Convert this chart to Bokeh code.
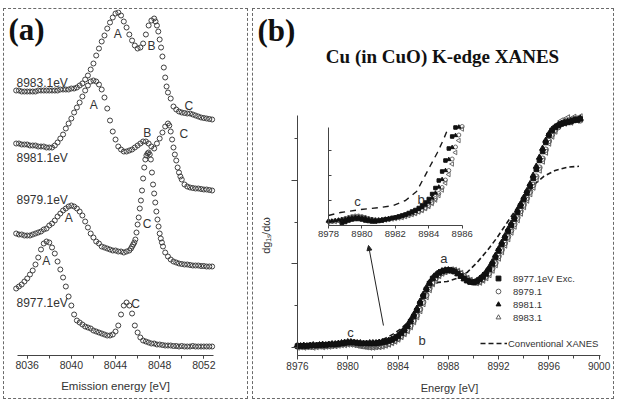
import math

from bokeh.embed import file_html
from bokeh.layouts import row
from bokeh.models import (Arrow, FixedTicker, Label, Legend, LegendItem, LinearAxis,
                          NormalHead, Range1d, SingleIntervalTicker)
from bokeh.plotting import figure
from bokeh.resources import INLINE


def energy_grid(*segments):
    """Expand (start, step, count) sampling segments into a list of energies."""
    pts = []
    for start, step, count in segments:
        pts.extend(round(start + i * step, 3) for i in range(count))
    return pts


# ---------------- (a) emission spectra, stacked by excitation energy ----------------
emission_names = ["8983.1eV", "8981.1eV", "8979.1eV", "8977.1eV"]
emission_name_y = [27.3, 19.8, 15.6, 5.3]

e_8977 = energy_grid((8035.0, 0.25, 72))
i_8977 = [6.7, 6.9, 7.1, 7.4, 7.7, 8.1, 8.5, 9.1, 9.8, 10.6,
          11.2, 11.4, 11.3, 10.8, 10.2, 9.4, 8.6, 7.8, 6.9, 5.9,
          5.0, 4.1, 3.5, 3.3, 3.1, 2.9, 2.8, 2.7, 2.5, 2.4,
          2.3, 2.2, 2.1, 2.0, 2.0, 2.1, 2.4, 3.0, 4.1, 5.0,
          5.3, 5.0, 4.2, 3.0, 2.3, 1.8, 1.5, 1.4, 1.3, 1.2,
          1.2, 1.1, 1.1, 1.05, 1.0, 1.0, 1.0, 0.95, 0.95, 0.9,
          0.95, 0.9, 0.9, 0.9, 0.95, 0.9, 0.9, 0.9, 0.9, 0.9,
          0.9, 0.9]

e_8979 = energy_grid((8035.0, 0.25, 42), (8045.4, 0.1, 30), (8048.5, 0.25, 18))
i_8979 = [12.2, 12.1, 12.1, 12.0, 12.0, 12.0, 12.1, 12.2, 12.3, 12.4,
          12.6, 12.7, 13.0, 13.2, 13.5, 13.9, 14.2, 14.5, 14.7, 14.9,
          15.0, 14.9, 14.7, 14.4, 14.0, 13.4, 12.8, 12.2, 11.8, 11.4,
          11.2, 10.9, 10.8, 10.7, 10.6, 10.5, 10.5, 10.4, 10.4, 10.3,
          10.4, 10.5,
          10.7, 10.9, 11.1, 11.3, 11.6, 12.3, 13.1, 13.8, 14.7, 15.5,
          16.5, 17.7, 18.8, 19.6, 20.0, 20.2, 20.3, 20.1, 19.6, 18.3,
          17.1, 16.2, 15.3, 14.4, 13.6, 12.9, 12.2, 11.7, 11.3, 10.9,
          10.3, 9.9, 9.6, 9.4, 9.3, 9.2, 9.15, 9.1, 9.1, 9.05,
          9.0, 9.0, 9.0, 8.95, 8.95, 8.9, 8.9, 8.9]

e_8981 = energy_grid((8035.0, 0.25, 56), (8048.875, 0.125, 10), (8050.25, 0.25, 11))
i_8981 = [21.2, 21.2, 21.1, 21.1, 21.1, 21.0, 21.0, 21.0, 20.9, 20.9,
          20.9, 20.8, 20.8, 20.8, 21.0, 21.3, 21.7, 22.1, 22.7, 23.2,
          23.7, 24.3, 24.8, 25.3, 25.9, 26.5, 27.0, 27.4, 27.5, 27.4,
          27.1, 26.6, 25.8, 24.7, 23.5, 22.4, 21.6, 20.9, 20.6, 20.4,
          20.4, 20.5, 20.6, 20.8, 21.0, 21.2, 21.4, 21.4, 21.2, 20.9,
          20.7, 21.2, 21.7, 22.3, 22.9, 23.2,
          23.0, 22.4, 21.6, 20.8, 20.1, 19.5, 18.8, 18.3, 17.9, 17.6,
          17.1, 16.9, 16.8, 16.75, 16.7, 16.7, 16.65, 16.6, 16.6, 16.55, 16.5]

e_8983 = energy_grid((8035.0, 0.25, 51), (8047.625, 0.125, 10), (8049.0, 0.25, 16))
i_8983 = [26.5, 26.5, 26.4, 26.4, 26.4, 26.4, 26.4, 26.4, 26.5, 26.5,
          26.5, 26.5, 26.5, 26.5, 26.5, 26.5, 26.6, 26.6, 26.6, 26.6,
          26.7, 26.7, 26.8, 27.0, 27.2, 27.6, 28.0, 28.6, 29.2, 30.0,
          30.7, 31.4, 32.0, 32.7, 33.3, 33.8, 34.2, 34.3, 34.0, 33.4,
          32.8, 32.1, 31.5, 31.0, 30.7, 30.8, 31.2, 32.1, 33.0, 33.5,
          33.7,
          33.4, 33.0, 32.4, 31.6, 30.8, 29.9, 28.8, 27.8, 26.9, 26.3,
          25.7, 24.9, 24.6, 24.4, 24.3, 24.25, 24.2, 24.2, 24.1, 24.0,
          23.9, 23.8, 23.75, 23.7, 23.65, 23.6]

# peak letters: (text, energy, stacked intensity)
emission_peaks = [("A", 8044.21, 32.2), ("B", 8047.26, 31.0), ("C", 8050.64, 25.0),
                  ("A", 8042.03, 25.1), ("B", 8046.87, 22.3), ("C", 8050.18, 22.2),
                  ("A", 8039.77, 13.8), ("C", 8046.87, 13.2),
                  ("A", 8037.72, 9.5), ("C", 8045.81, 5.2)]
emission_axis_span = (8035.09, 8052.87)

# ---------------- (b) HERFD XANES ----------------
xanes_names = ["8977.1eV Exc.", "8979.1", "8981.1", "8983.1"]
xanes_axis_span = (8976.0, 9000.11)
xanes_y_span = (-0.0958, 2.778)
e_xanes = energy_grid((8976.0, 0.25, 91))
x_8977 = [0.018, 0.018, 0.018, 0.018, 0.024, 0.024, 0.024, 0.030, 0.030, 0.030,
          0.036, 0.036, 0.036, 0.042, 0.048, 0.054, 0.060, 0.060, 0.060, 0.054,
          0.048, 0.048, 0.048, 0.048, 0.048, 0.048, 0.054, 0.060, 0.066, 0.078,
          0.090, 0.108, 0.132, 0.168, 0.204, 0.251, 0.311, 0.371, 0.443, 0.527,
          0.611, 0.695, 0.766, 0.826, 0.862, 0.892, 0.910, 0.922, 0.928, 0.922,
          0.910, 0.886, 0.856, 0.826, 0.802, 0.784, 0.778, 0.790, 0.814, 0.844,
          0.880, 0.934, 1.000, 1.078, 1.156, 1.234, 1.311, 1.389, 1.461, 1.539,
          1.617, 1.695, 1.772, 1.850, 1.928, 2.024, 2.132, 2.240, 2.347, 2.455,
          2.539, 2.599, 2.635, 2.659, 2.677, 2.689, 2.695, 2.707, 2.719, 2.731,
          2.737]
x_8979 = [0.012, 0.012, 0.012, 0.012, 0.012, 0.012, 0.018, 0.018, 0.018, 0.018,
          0.024, 0.024, 0.030, 0.036, 0.042, 0.048, 0.054, 0.054, 0.048, 0.036,
          0.024, 0.018, 0.012, 0.012, 0.012, 0.012, 0.018, 0.024, 0.036, 0.048,
          0.066, 0.084, 0.108, 0.139, 0.175, 0.213, 0.263, 0.323, 0.385, 0.460,
          0.544, 0.628, 0.709, 0.778, 0.833, 0.868, 0.896, 0.913, 0.923, 0.927,
          0.920, 0.905, 0.880, 0.850, 0.821, 0.798, 0.781, 0.779, 0.792, 0.820,
          0.850, 0.891, 0.947, 1.013, 1.094, 1.172, 1.250, 1.327, 1.403, 1.477,
          1.555, 1.633, 1.711, 1.788, 1.866, 1.947, 2.046, 2.154, 2.261, 2.369,
          2.472, 2.551, 2.607, 2.640, 2.680, 2.700, 2.720, 2.700, 2.730, 2.740,
          2.720]
x_8981 = [0.024, 0.018, 0.024, 0.018, 0.024, 0.030, 0.024, 0.030, 0.036, 0.030,
          0.036, 0.042, 0.042, 0.048, 0.054, 0.060, 0.066, 0.066, 0.060, 0.054,
          0.054, 0.048, 0.048, 0.054, 0.054, 0.054, 0.060, 0.066, 0.072, 0.084,
          0.096, 0.120, 0.144, 0.180, 0.222, 0.269, 0.329, 0.395, 0.467, 0.551,
          0.635, 0.713, 0.778, 0.832, 0.868, 0.898, 0.916, 0.926, 0.928, 0.920,
          0.904, 0.880, 0.850, 0.820, 0.796, 0.781, 0.778, 0.796, 0.826, 0.862,
          0.904, 0.958, 1.024, 1.102, 1.180, 1.258, 1.335, 1.413, 1.485, 1.563,
          1.641, 1.719, 1.796, 1.874, 1.958, 2.060, 2.168, 2.276, 2.383, 2.479,
          2.557, 2.611, 2.641, 2.665, 2.683, 2.695, 2.707, 2.713, 2.725, 2.719,
          2.743]
x_8983 = [0.006, 0.012, 0.006, 0.012, 0.012, 0.006, 0.012, 0.018, 0.012, 0.018,
          0.018, 0.024, 0.024, 0.030, 0.036, 0.036, 0.042, 0.042, 0.036, 0.030,
          0.024, 0.018, 0.012, 0.006, 0.006, 0.012, 0.012, 0.018, 0.030, 0.042,
          0.060, 0.078, 0.102, 0.132, 0.168, 0.204, 0.251, 0.311, 0.371, 0.443,
          0.527, 0.611, 0.695, 0.766, 0.826, 0.862, 0.892, 0.910, 0.922, 0.928,
          0.922, 0.910, 0.886, 0.856, 0.826, 0.802, 0.784, 0.778, 0.784, 0.808,
          0.838, 0.874, 0.928, 0.994, 1.072, 1.150, 1.228, 1.305, 1.383, 1.455,
          1.533, 1.611, 1.689, 1.766, 1.844, 1.922, 2.018, 2.126, 2.234, 2.341,
          2.449, 2.533, 2.593, 2.665, 2.713, 2.689, 2.749, 2.701, 2.755, 2.725,
          2.761]

e_conv = [8977.7, 8979.4, 8981.0, 8982.2, 8983.0, 8983.6, 8984.2, 8984.7, 8985.2,
          8985.6, 8986.2, 8986.7, 8987.2, 8987.9, 8988.7, 8989.5, 8990.3, 8991.1,
          8991.9, 8992.7, 8993.5, 8994.3, 8994.9, 8995.6, 8996.5, 8997.5, 8998.4]
x_conv = [0.01, 0.02, 0.04, 0.07, 0.11, 0.16, 0.22, 0.29, 0.38, 0.50, 0.65, 0.74,
          0.78, 0.79, 0.83, 0.90, 1.02, 1.16, 1.32, 1.50, 1.68, 1.84, 1.96, 2.05,
          2.12, 2.16, 2.17]

# pre-edge zoom (inset)
inset_ticks = [8978, 8980, 8982, 8984, 8986]
inset_y_span = (0, 3.92)
n_e_8977 = energy_grid((8978.8, 0.2, 35))
n_8977 = [0.10, 0.14, 0.20, 0.24, 0.26, 0.26, 0.24, 0.20, 0.18, 0.16,
          0.16, 0.18, 0.20, 0.24, 0.26, 0.30, 0.32, 0.36, 0.40, 0.44,
          0.50, 0.56, 0.62, 0.70, 0.80, 0.92, 1.06, 1.26, 1.50, 1.80,
          2.16, 2.60, 3.08, 3.56, 3.92]
n_e_8979 = energy_grid((8978.0, 0.2, 41))
n_8979 = [0.16, 0.16, 0.18, 0.20, 0.24, 0.28, 0.32, 0.36, 0.38, 0.38,
          0.36, 0.32, 0.28, 0.24, 0.22, 0.22, 0.22, 0.24, 0.26, 0.28,
          0.30, 0.32, 0.34, 0.38, 0.42, 0.46, 0.50, 0.56, 0.62, 0.70,
          0.80, 0.92, 1.08, 1.28, 1.52, 1.82, 2.20, 2.66, 3.14, 3.62,
          3.96]
n_e_8981 = energy_grid((8978.0, 0.2, 40))
n_8981 = [0.18, 0.18, 0.20, 0.22, 0.24, 0.26, 0.30, 0.32, 0.34, 0.34,
          0.32, 0.30, 0.26, 0.24, 0.22, 0.22, 0.24, 0.26, 0.28, 0.30,
          0.32, 0.34, 0.38, 0.42, 0.46, 0.50, 0.56, 0.64, 0.72, 0.82,
          0.94, 1.10, 1.30, 1.54, 1.84, 2.20, 2.64, 3.12, 3.60, 3.94]
n_e_8983 = energy_grid((8978.0, 0.2, 41))
n_8983 = [0.14, 0.16, 0.16, 0.18, 0.20, 0.24, 0.28, 0.30, 0.32, 0.32,
          0.30, 0.28, 0.24, 0.22, 0.20, 0.20, 0.20, 0.22, 0.24, 0.26,
          0.28, 0.30, 0.32, 0.36, 0.40, 0.44, 0.48, 0.54, 0.60, 0.68,
          0.76, 0.88, 1.02, 1.20, 1.42, 1.70, 2.04, 2.46, 2.92, 3.40,
          3.86]
n_e_conv = [8978.0, 8978.72, 8979.92, 8981.11, 8981.89, 8982.61, 8983.27, 8983.69,
            8984.10, 8984.52, 8984.88, 8985.18]
n_conv = [0.40, 0.52, 0.64, 0.72, 0.80, 1.00, 1.36, 1.88, 2.40, 2.92, 3.44, 3.92]

SANS = "Liberation Sans"
SERIF = "Liberation Serif"
INK = "#333333"
BOX = {"outline": "1px dashed #6a6a6a"}


def style_axis(ax, font_size):
    ax.axis_line_color = "#444444"
    ax.major_tick_line_color = "#444444"
    ax.minor_tick_line_color = "#444444"
    ax.major_label_text_font = SANS
    ax.major_label_text_font_size = font_size
    ax.major_label_text_color = INK


def text(p, x, y, s, size, align="center", font=SANS, bold=False, angle=0.0, **kw):
    p.add_layout(Label(x=x, y=y, text=s, text_align=align, text_baseline="middle",
                       text_font=font, text_font_size=size, angle=angle,
                       text_font_style="bold" if bold else "normal",
                       text_color="#111111" if bold else INK, **kw))


# ======================= panel (a) =======================
pa = figure(width=243, height=389, x_range=(8033.944, 8055.955), y_range=(-4.3, 34.6),
            output_backend="svg", toolbar_location=None, title=None,
            y_axis_location=None, min_border=0, margin=(9, 3, 2, 4), styles=BOX)
pa.grid.visible = False
pa.outline_line_color = None

xa = pa.xaxis[0]
xa.fixed_location = 0
xa.bounds = emission_axis_span
xa.ticker = SingleIntervalTicker(interval=4, num_minor_ticks=2)
xa.major_tick_in = 0
xa.major_tick_out = 3
xa.minor_tick_in = 0
xa.minor_tick_out = 3
xa.major_label_standoff = 2
style_axis(xa, "10.5px")

for e, i in [(e_8983, i_8983), (e_8981, i_8981), (e_8979, i_8979), (e_8977, i_8977)]:
    pa.scatter(e, i, marker="circle", size=5, line_color="#3e3e3e", line_width=1,
               fill_color=None)

for name, yv in zip(emission_names, emission_name_y):
    text(pa, 8035.03, yv, name, "12px", align="left")
for txt, xv, yv in emission_peaks:
    text(pa, xv, yv, txt, "12px")
text(pa, 8044.0, -3.0, "Emission energy [eV]", "11.5px")
text(pa, 8034.31, 32.6, "(a)", "31px", align="left", font=SERIF, bold=True)

# ======================= panel (b) =======================
pb = figure(width=360, height=389, x_range=(8972.499, 9001.145), y_range=(-0.611, 4.048),
            output_backend="svg", toolbar_location=None, title=None,
            min_border=0, margin=(9, 8, 2, 3), styles=BOX)
pb.grid.visible = False
pb.outline_line_color = None
pb.extra_x_ranges = {"ix": Range1d(8973.512, 8995.056)}
pb.extra_y_ranges = {"iy": Range1d(-6.92, 8.64)}

xb = pb.xaxis[0]
xb.fixed_location = xanes_y_span[0]
xb.bounds = xanes_axis_span
xb.ticker = SingleIntervalTicker(interval=4, num_minor_ticks=2)
xb.major_tick_in = 0
xb.major_tick_out = 4
xb.minor_tick_in = 0
xb.minor_tick_out = 3
xb.major_label_standoff = 3
style_axis(xb, "10px")

yb = pb.yaxis[0]
yb.fixed_location = xanes_axis_span[0]
yb.bounds = xanes_y_span
yb.ticker = FixedTicker(ticks=[0, 1, 2], minor_ticks=[0.5, 1.5, 2.5])
yb.major_tick_in = 0
yb.major_tick_out = 6
yb.minor_tick_in = 0
yb.minor_tick_out = 3
style_axis(yb, "10px")
yb.major_label_text_color = None

# inset axes, pinned inside the main frame
ix_axis = LinearAxis(x_range_name="ix", y_range_name="iy", fixed_location=0,
                     bounds=(inset_ticks[0], inset_ticks[-1]),
                     ticker=FixedTicker(ticks=inset_ticks),
                     major_tick_in=0, major_tick_out=3, minor_tick_out=0,
                     major_label_standoff=2)
style_axis(ix_axis, "9.5px")
pb.add_layout(ix_axis, "below")
iy_axis = LinearAxis(x_range_name="ix", y_range_name="iy", fixed_location=inset_ticks[0],
                     bounds=inset_y_span, ticker=FixedTicker(ticks=[1, 2, 3]),
                     major_tick_in=3, major_tick_out=0, minor_tick_out=0)
style_axis(iy_axis, "9px")
iy_axis.major_label_text_color = None
pb.add_layout(iy_axis, "left")

# conventional XANES (dashed)
r_conv = pb.line(e_conv, x_conv, line_color="#1a1a1a", line_width=1.6, line_dash="5 3")
pb.line(n_e_conv, n_conv, x_range_name="ix", y_range_name="iy",
        line_color="#1a1a1a", line_width=1.4, line_dash="6 5")

open_line = "#5c5c5c"
r83 = pb.scatter(e_xanes, x_8983, marker="triangle", angle=math.pi / 2, size=6.5,
                 line_color=open_line, fill_color=None, line_width=1)
r79 = pb.scatter(e_xanes, x_8979, marker="circle", size=5.5,
                 line_color=open_line, fill_color=None, line_width=1)
r77 = pb.scatter(e_xanes, x_8977, marker="square", size=4.5,
                 line_color="#111111", fill_color="#111111")
r81 = pb.scatter(e_xanes, x_8981, marker="triangle", size=6,
                 line_color="#111111", fill_color="#111111")

kw = dict(x_range_name="ix", y_range_name="iy")
pb.scatter(n_e_8983, n_8983, marker="triangle", angle=math.pi / 2, size=4.5,
           line_color=open_line, fill_color=None, line_width=0.9, **kw)
pb.scatter(n_e_8979, n_8979, marker="circle", size=4,
           line_color=open_line, fill_color=None, line_width=0.9, **kw)
pb.scatter(n_e_8977, n_8977, marker="square", size=3.5,
           line_color="#111111", fill_color="#111111", **kw)
pb.scatter(n_e_8981, n_8981, marker="triangle", size=4,
           line_color="#111111", fill_color="#111111", **kw)

legend_kw = dict(padding=0, margin=0, border_line_color=None, background_fill_alpha=0,
                 label_text_font=SANS, label_text_font_size="9.5px",
                 label_text_color=INK, glyph_height=12, label_height=12, spacing=1)
leg_markers = Legend(items=[LegendItem(label=n, renderers=[r])
                            for n, r in zip(xanes_names, [r77, r79, r81, r83])],
                     location=(239, 75), glyph_width=12, label_standoff=9, **legend_kw)
leg_conv = Legend(items=[LegendItem(label="Conventional XANES", renderers=[r_conv])],
                  location=(227, 49), glyph_width=27, label_standoff=1, **legend_kw)
pb.add_layout(leg_markers)
pb.add_layout(leg_conv)

# feature letters
for txt, xv, yv in [("a", 8987.64, 1.062), ("b", 8985.92, 0.084), ("c", 8980.22, 0.183)]:
    text(pb, xv, yv, txt, "13px")
for txt, xv, yv in [("c", 8979.74, 0.96), ("b", 8983.54, 1.06)]:
    text(pb, xv, yv, txt, "13px", **kw)

pb.add_layout(Arrow(x_start=8982.84, y_start=0.263, x_end=8981.65, y_end=1.222,
                    line_color="#222222", line_width=1,
                    end=NormalHead(size=5, fill_color="#222222", line_color="#222222")))

text(pb, 8988.095, -0.491, "Energy [eV]", "11px")
text(pb, 8973.533, 1.341, "dg\u2081\u209b/d\u03c9", "11px", angle=math.pi / 2)
text(pb, 8987.54, 3.485, "Cu (in CuO) K-edge XANES", "19px", font=SERIF, bold=True)
text(pb, 8972.82, 3.796, "(b)", "31px", align="left", font=SERIF, bold=True)

layout = row(pa, pb)
open("out.html", "w").write(file_html(layout, INLINE))
